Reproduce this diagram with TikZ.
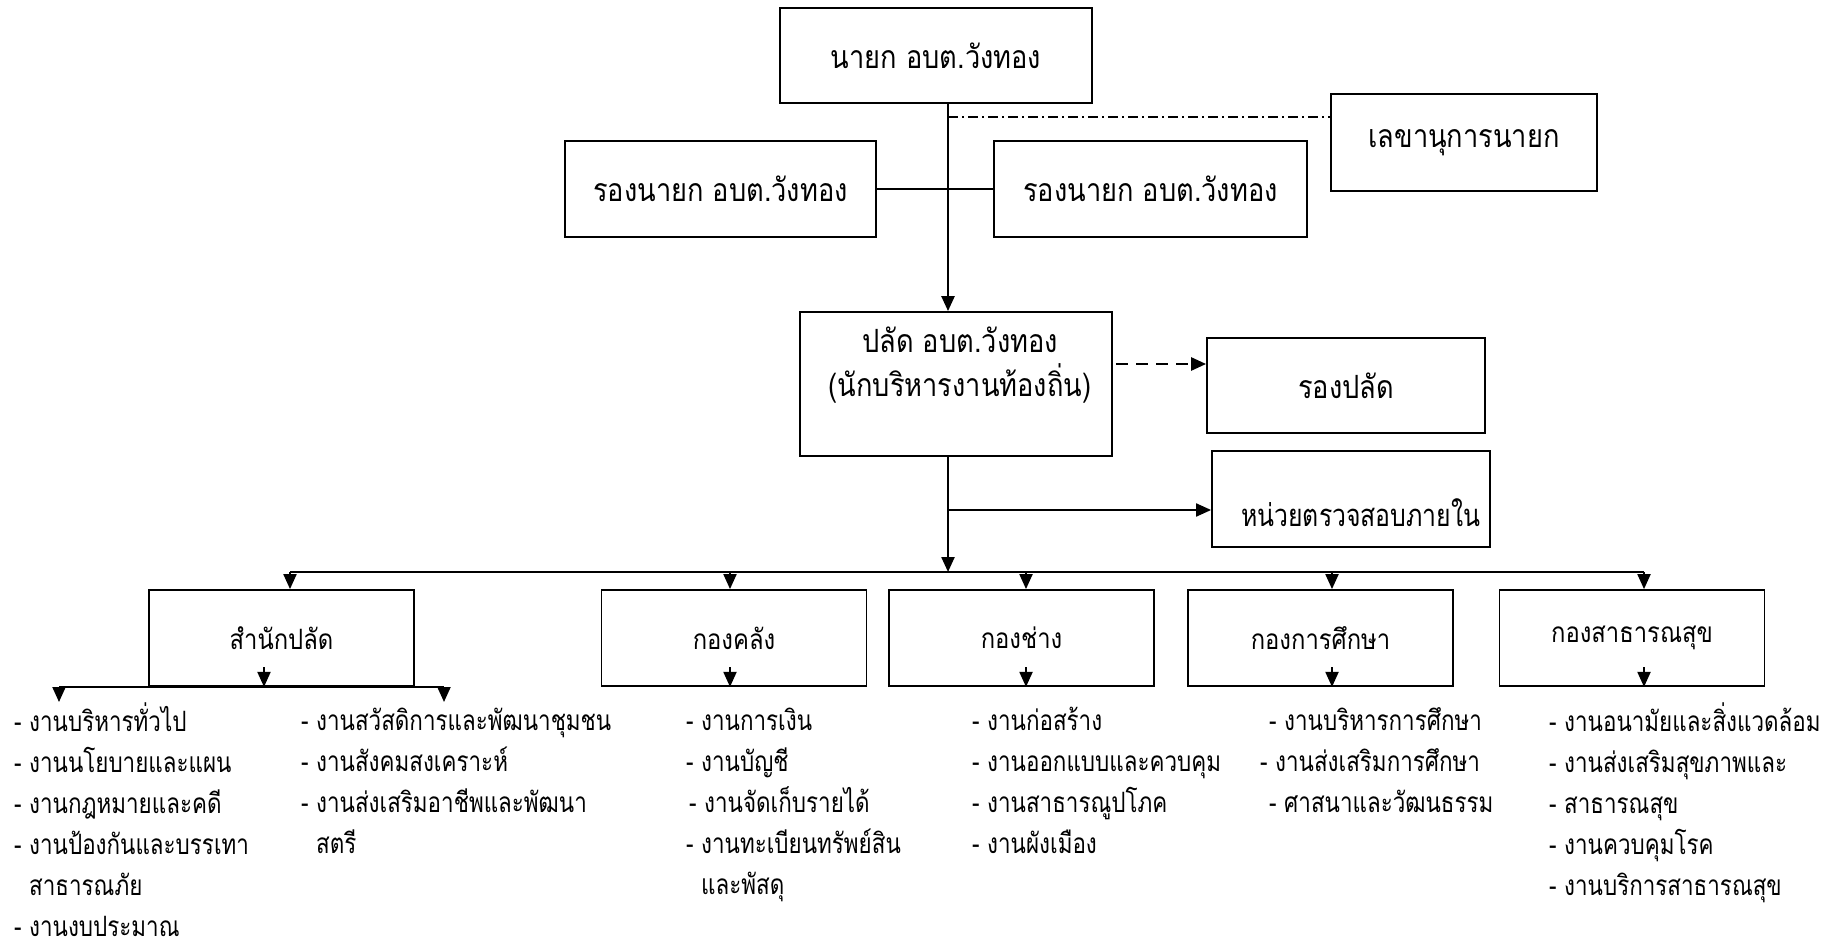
\documentclass[tikz,border=0pt]{standalone}
\usepackage{fontspec}
\setmainfont[Script=Thai,FakeStretch=0.85]{Loma}
\newfontfamily\listfont[Script=Thai,FakeStretch=0.8]{Loma}
\usetikzlibrary{arrows.meta}

\tikzset{
  box/.style={draw, line width=1.8pt, minimum width=265pt, minimum height=96pt, inner sep=0pt},
  bigtxt/.style={font=\fontsize{32}{44}\selectfont},
  depttxt/.style={font=\fontsize{28}{36}\selectfont},
  joblist/.style={font=\listfont\fontsize{28}{41}\selectfont, align=left, anchor=north west, inner sep=0pt},
  link/.style={line width=2pt},
  tip/.style={line width=2pt, -{Triangle[length=15pt,width=13pt]}},
}

\begin{document}
\begin{tikzpicture}[x=1pt,y=-1pt]
\useasboundingbox (0,0) rectangle (1838,949);
% top level
\node[box, bigtxt, minimum width=312pt, minimum height=95pt] (nayok) at (936,55.5) {นายก อบต.วังทอง};
\node[box, bigtxt, minimum width=266pt, minimum height=97pt] (lekha) at (1464,142.5) {เลขานุการนายก};
\node[box, bigtxt, minimum width=311pt] (rongL) at (720.5,189) {รองนายก อบต.วังทอง};
\node[box, bigtxt, minimum width=313pt] (rongR) at (1150.5,189) {รองนายก อบต.วังทอง};
\node[box, minimum width=312pt, minimum height=144pt] (palad) at (956,384) {};
\node[bigtxt, align=center] (paladtxt) at (960,365) {ปลัด อบต.วังทอง\\(นักบริหารงานท้องถิ่น)};
\node[box, bigtxt, minimum width=278pt, minimum height=95pt] (rongpalad) at (1346,385.5) {รองปลัด};
\node[box, minimum width=278pt] (audit) at (1351,499) {};
\node[font=\listfont\fontsize{31}{40}\selectfont, anchor=east] (audittxt) at (1484,513) {หน่วยตรวจสอบภายใน};

% divisions
\node[box, depttxt] (sanak) at (281.5,638) {สำนักปลัด};
\node[box, depttxt] (klang) at (734,638) {กองคลัง};
\node[box, depttxt] (chang) at (1021.5,638) {กองช่าง};
\node[box, depttxt] (suksa) at (1320.5,638) {กองการศึกษา};
\node[box, depttxt] (sathorn) at (1632,638) {กองสาธารณสุข};

% work lists
\node[joblist] (sanakL) at (14,702) {\strut- งานบริหารทั่วไป\\- งานนโยบายและแผน\\- งานกฎหมายและคดี\\- งานป้องกันและบรรเทา\\\phantom{- }สาธารณภัย\\- งานงบประมาณ};
\node[joblist] (sanakR) at (301,702) {\strut- งานสวัสดิการและพัฒนาชุมชน\\- งานสังคมสงเคราะห์\\- งานส่งเสริมอาชีพและพัฒนา\\\phantom{- }สตรี};
\node[joblist] (klangL) at (686,702) {\strut- งานการเงิน\\- งานบัญชี\\\hspace*{3pt}- งานจัดเก็บรายได้\\- งานทะเบียนทรัพย์สิน\\\phantom{- }และพัสดุ};
\node[joblist] (changL) at (972,702) {\strut- งานก่อสร้าง\\- งานออกแบบและควบคุม\\- งานสาธารณูปโภค\\- งานผังเมือง};
\node[joblist] (suksaL) at (1260,702) {\strut\hspace*{9pt}- งานบริหารการศึกษา\\- งานส่งเสริมการศึกษา\\\hspace*{9pt}- ศาสนาและวัฒนธรรม};
\node[joblist] (sathornL) at (1549,702) {\strut- งานอนามัยและสิ่งแวดล้อม\\- งานส่งเสริมสุขภาพและ\\- สาธารณสุข\\- งานควบคุมโรค\\- งานบริการสาธารณสุข};

% connector points
\coordinate (spine) at (948,117);
\coordinate (audity) at (948,510);
\coordinate (bus) at (948,572);
\coordinate (dashy) at (1116,364);
\coordinate (dropS) at (290,572);
\coordinate (dropK) at (730,572);
\coordinate (dropC) at (1026,572);
\coordinate (dropE) at (1332,572);
\coordinate (dropH) at (1644,572);
\coordinate (inS) at (264,667);
\coordinate (inK) at (730,667);
\coordinate (inC) at (1026,667);
\coordinate (inE) at (1332,667);
\coordinate (inH) at (1644,667);
\coordinate (subL) at (59,687);
\coordinate (subR) at (444,687);

% lines
\draw[tip, line width=2.4pt] (nayok.south -| spine) -- (palad.north -| spine);
\draw[line width=1.5pt, dash pattern=on 10pt off 4pt on 2pt off 4pt] (spine) -- (lekha.west |- spine);
\draw[link] (rongL.east) -- (rongR.west);
\draw[tip, line width=2.6pt, dash pattern=on 12pt off 8pt] (dashy) -- (rongpalad.west |- dashy);
\draw[tip, line width=2.4pt] (palad.south -| spine) -- (bus);
\draw[tip] (audity) -- (audit.west |- audity);
\draw[link] (dropS) -- (dropH);
\draw[tip] (dropS) -- (dropS |- sanak.north);
\draw[tip] (dropK) -- (dropK |- klang.north);
\draw[tip] (dropC) -- (dropC |- chang.north);
\draw[tip] (dropE) -- (dropE |- suksa.north);
\draw[tip] (dropH) -- (dropH |- sathorn.north);
\draw[tip] (inS) -- (inS |- sanak.south);
\draw[tip] (inK) -- (inK |- klang.south);
\draw[tip] (inC) -- (inC |- chang.south);
\draw[tip] (inE) -- (inE |- suksa.south);
\draw[tip] (inH) -- (inH |- sathorn.south);
\draw[link] (subL) -- (subR);
\draw[tip] (subL) -- (subL |- sanakL.north);
\draw[tip] (subR) -- (subR |- sanakR.north);
\end{tikzpicture}
\end{document}
